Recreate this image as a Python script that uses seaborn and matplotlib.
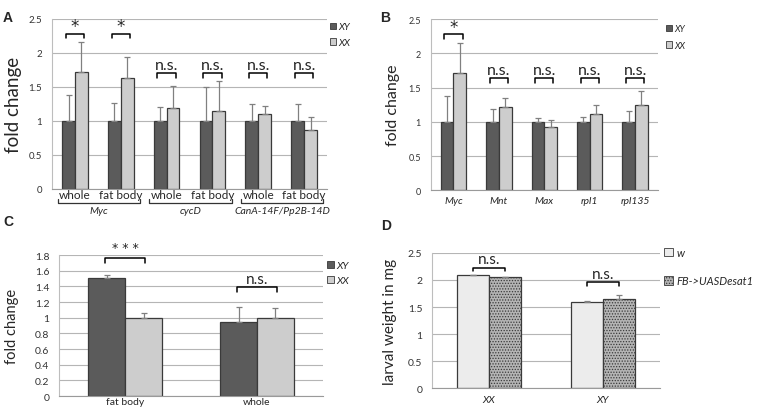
import numpy as np
import pandas as pd
import matplotlib
matplotlib.use("Agg")
import matplotlib.pyplot as plt
from matplotlib.patches import Patch
import seaborn as sns

sns.set_style("white")
plt.rcParams['font.family'] = ['Lato', 'DejaVu Sans']
plt.rcParams['hatch.color'] = '#555555'
plt.rcParams['hatch.linewidth'] = 0.6

# ---- 数据 ----
# A
a_genes = ["Myc", "cycD", "CanA-14F/Pp2B-14D"]
a_tissue = ["whole", "fat body", "whole", "fat body", "whole", "fat body"]
a_xy = [1, 1, 1, 1, 1, 1]
a_xy_err = [0.38, 0.26, 0.20, 0.50, 0.24, 0.24]
a_xx = [1.71, 1.63, 1.19, 1.14, 1.10, 0.86]
a_xx_err = [0.44, 0.30, 0.32, 0.45, 0.11, 0.20]
a_sig = ["*", "*", "n.s.", "n.s.", "n.s.", "n.s."]

# B
b_genes = ["Myc", "Mnt", "Max", "rpl1", "rpl135"]
b_xy = [1, 1, 1, 1, 1]
b_xy_err = [0.38, 0.19, 0.05, 0.07, 0.16]
b_xx = [1.71, 1.22, 0.92, 1.12, 1.24]
b_xx_err = [0.44, 0.13, 0.10, 0.13, 0.21]
b_sig = ["*", "n.s.", "n.s.", "n.s.", "n.s."]

# C
c_tissue = ["fat body", "whole"]
c_xy = [1.51, 0.95]
c_xy_err = [0.04, 0.19]
c_xx = [1.00, 1.00]
c_xx_err = [0.06, 0.12]
c_sig = ["* * *", "n.s."]

# D
d_geno = ["XX", "XY"]
d_w = [2.09, 1.59]
d_w_err = [0.0, 0.03]
d_fb = [2.05, 1.65]
d_fb_err = [0.01, 0.07]
d_sig = ["n.s.", "n.s."]

sex_labels = ["XY", "XX"]
sex_colors = {"XY": "#5b5b5b", "XX": "#cdcdcd"}
d_labels = ["w", "FB->UASDesat1"]
d_colors = {"w": "#ececec", "FB->UASDesat1": "#b4b4b4"}


def long_df(cats, vals1, vals2, names):
    return pd.DataFrame({
        "cat": list(cats) * 2,
        "val": list(vals1) + list(vals2),
        "grp": [names[0]] * len(cats) + [names[1]] * len(cats),
    })


def draw_bars(ax, df, palette, order, hue_order, errs):
    sns.barplot(data=df, x="cat", y="val", hue="grp", order=order, hue_order=hue_order,
                palette=palette, width=0.56, gap=0, legend=False, ax=ax,
                edgecolor="#3a3a3a", linewidth=0.9, errorbar=None)
    conts = list(ax.containers)
    for cont, ee in zip(conts, errs):
        for bar, e in zip(cont, ee):
            x = bar.get_x() + bar.get_width() / 2
            h = bar.get_height()
            ax.errorbar(x, h, yerr=[[0], [e]], color="#808080", lw=0.9,
                        capsize=2.5, capthick=0.9, zorder=1)
    return conts


def style_axes(ax, ymax, step, tick_fs):
    ax.set_ylim(0, ymax)
    ticks = np.arange(0, ymax + 1e-9, step)
    ax.set_yticks(ticks)
    ax.set_yticklabels([f"{t:g}" for t in ticks], fontsize=tick_fs, color="#333333")
    ax.yaxis.grid(True, color="#b5b5b5", lw=0.8)
    ax.set_axisbelow(True)
    for s in ["top", "right"]:
        ax.spines[s].set_visible(False)
    ax.spines["left"].set_color("#bdbdbd")
    ax.spines["bottom"].set_color("#9a9a9a")
    ax.tick_params(axis="y", length=3, color="#bdbdbd", pad=4)
    ax.tick_params(axis="x", length=0, pad=2)
    ax.set_xlabel("")


def bracket(ax, x, y, half, leg, txt, fs, dy, fam=None):
    ax.plot([x - half, x - half, x + half, x + half], [y - leg, y, y, y - leg],
            color="black", lw=1.1, clip_on=False)
    kw = {"family": fam} if fam else {}
    ax.text(x, y + dy, txt, ha="center", va="bottom", fontsize=fs, clip_on=False, **kw)


STAR_FONT = ["DejaVu Sans"]

fig = plt.figure(figsize=(7.57, 4.10), dpi=100)
axA = fig.add_axes([0.0687, 0.5366, 0.3633, 0.4158])
axB = fig.add_axes([0.569, 0.5334, 0.300, 0.4176])
axC = fig.add_axes([0.078, 0.0317, 0.3487, 0.3439])
axD = fig.add_axes([0.5707, 0.0512, 0.3012, 0.3293])

# ---- A ----
a_cats = [f"{g}|{t}" for g, t in zip(np.repeat(a_genes, 2), a_tissue)]
dfA = long_df(a_cats, a_xy, a_xx, sex_labels)
draw_bars(axA, dfA, sex_colors, a_cats, sex_labels, [a_xy_err, a_xx_err])
style_axes(axA, 2.5, 0.5, 7)
axA.set_xticks(range(len(a_cats)))
axA.set_xticklabels(a_tissue, fontsize=8.5)
axA.tick_params(axis="x", pad=0)
axA.set_ylabel("fold change", fontsize=13.5)
axA.yaxis.set_label_coords(-0.11, 0.5)
axA.set_xlim(-0.5, len(a_cats) - 0.5)
trA = axA.get_xaxis_transform()
for gi, g in enumerate(a_genes):
    x0, x1 = 2 * gi - 0.38, 2 * gi + 1.42
    axA.plot([x0, x0, x1, x1], [-0.059, -0.082, -0.082, -0.059], color="#333333",
             lw=0.9, transform=trA, clip_on=False)
    axA.text((x0 + x1) / 2, -0.125, g, style="italic", fontsize=7.5, ha="center",
             va="center", transform=trA)
for i, s in enumerate(a_sig):
    if s == "*":
        bracket(axA, i, 2.28, 0.2, 0.07, s, 12, -0.02, STAR_FONT)
    else:
        bracket(axA, i, 1.70, 0.2, 0.07, s, 11.5, 0.02)
axA.legend(handles=[Patch(facecolor=sex_colors[k], edgecolor="#3a3a3a", lw=0.6, label=k)
                    for k in sex_labels],
           loc="upper left", bbox_to_anchor=(0.995, 1.0), frameon=False,
           prop={"style": "italic", "size": 7}, handlelength=0.7, handleheight=0.7,
           handletextpad=0.2, labelspacing=0.65, borderaxespad=0)

# ---- B ----
dfB = long_df(b_genes, b_xy, b_xx, sex_labels)
draw_bars(axB, dfB, sex_colors, b_genes, sex_labels, [b_xy_err, b_xx_err])
style_axes(axB, 2.5, 0.5, 6.5)
axB.set_xticks(range(len(b_genes)))
axB.set_xticklabels(b_genes, fontsize=7.5, style="italic")
axB.tick_params(axis="x", pad=4)
axB.set_ylabel("fold change", fontsize=11.5)
axB.yaxis.set_label_coords(-0.135, 0.5)
axB.set_xlim(-0.5, len(b_genes) - 0.5)
for i, s in enumerate(b_sig):
    if s == "*":
        bracket(axB, i, 2.28, 0.2, 0.07, s, 12, -0.02, STAR_FONT)
    else:
        bracket(axB, i, 1.64, 0.2, 0.07, s, 11.5, 0.02)
axB.legend(handles=[Patch(facecolor=sex_colors[k], edgecolor="#3a3a3a", lw=0.6, label=k)
                    for k in sex_labels],
           loc="upper left", bbox_to_anchor=(1.02, 0.99), frameon=False,
           prop={"style": "italic", "size": 6.5}, handlelength=0.7, handleheight=0.7,
           handletextpad=0.2, labelspacing=0.8, borderaxespad=0)

# ---- C ----
dfC = long_df(c_tissue, c_xy, c_xx, sex_labels)
draw_bars(axC, dfC, sex_colors, c_tissue, sex_labels, [c_xy_err, c_xx_err])
style_axes(axC, 1.8, 0.2, 7.5)
axC.set_xlim(-0.5, len(c_tissue) - 0.5)
axC.set_xticks(range(len(c_tissue)))
axC.set_xticklabels(c_tissue, fontsize=7.5)
axC.set_xticks(np.arange(-0.5, len(c_tissue)), minor=True)
axC.tick_params(axis="x", which="minor", length=3, color="#bdbdbd")
axC.tick_params(axis="x", which="major", pad=1)
axC.set_ylabel("fold change", fontsize=10.5)
axC.yaxis.set_label_coords(-0.15, 0.5)
bracket(axC, 0, 1.76, 0.15, 0.06, c_sig[0], 9, 0.05, STAR_FONT)
bracket(axC, 1, 1.39, 0.15, 0.06, c_sig[1], 11, 0.02)
axC.legend(handles=[Patch(facecolor=sex_colors[k], edgecolor="#3a3a3a", lw=0.6, label=k)
                    for k in sex_labels],
           loc="upper left", bbox_to_anchor=(1.0, 0.99), frameon=False,
           prop={"style": "italic", "size": 7.5}, handlelength=0.7, handleheight=0.7,
           handletextpad=0.2, labelspacing=0.6, borderaxespad=0)

# ---- D ----
dfD = long_df(d_geno, d_w, d_fb, d_labels)
contsD = draw_bars(axD, dfD, d_colors, d_geno, d_labels, [d_w_err, d_fb_err])
for p in contsD[1]:
    p.set_hatch("......")
style_axes(axD, 2.5, 0.5, 7.5)
axD.set_xlim(-0.5, len(d_geno) - 0.5)
axD.set_xticks(range(len(d_geno)))
axD.set_xticklabels(d_geno, fontsize=7.5, style="italic")
axD.set_xticks(np.arange(-0.5, len(d_geno)), minor=True)
axD.tick_params(axis="x", which="minor", length=3, color="#bdbdbd")
axD.tick_params(axis="x", which="major", pad=5)
axD.set_ylabel("larval weight in mg", fontsize=11)
axD.yaxis.set_label_coords(-0.155, 0.5)
bracket(axD, 0, 2.23, 0.14, 0.07, d_sig[0], 11, 0.02)
bracket(axD, 1, 1.96, 0.14, 0.07, d_sig[1], 11, 0.02)
axD.legend(handles=[Patch(facecolor=d_colors["w"], edgecolor="#3a3a3a", lw=0.6, label="w"),
                    Patch(facecolor=d_colors["FB->UASDesat1"], edgecolor="#3a3a3a", lw=0.6,
                          hatch="......", label="FB->UASDesat1")],
           loc="upper left", bbox_to_anchor=(1.0, 1.08), frameon=False,
           prop={"style": "italic", "size": 8}, handlelength=0.8, handleheight=0.8,
           handletextpad=0.25, labelspacing=1.6, borderaxespad=0)

# 面板字母
for lbl, (x, y) in zip("ABCD", [(3, 18), (380, 18), (3, 222), (381, 226)]):
    fig.text(x / 757, 1 - y / 410, lbl, fontsize=10, fontweight="bold", va="center",
             family=["Liberation Sans", "DejaVu Sans"])

fig.savefig("out.png", dpi=100)
